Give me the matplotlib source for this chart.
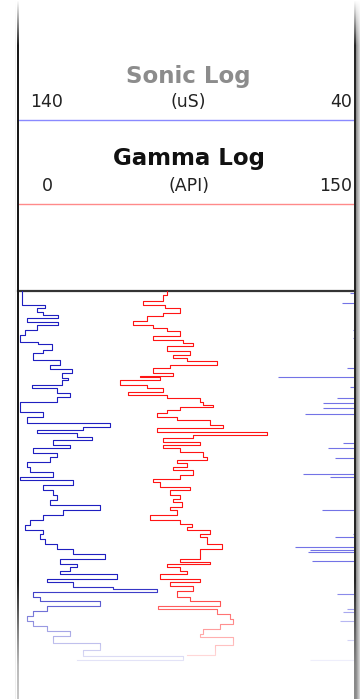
import numpy as np
import matplotlib
matplotlib.use("Agg")
import matplotlib.pyplot as plt

# ---------------- data ----------------
sonic_scale = [140, 40]          # uS, left -> right
gamma_scale = [0, 150]           # API, left -> right
sonic_title, sonic_unit = "Sonic Log", "(uS)"
gamma_title, gamma_unit = "Gamma Log", "(API)"

gamma_depth = [0, 4, 10, 14, 17, 22, 25, 30, 34, 37, 40, 45, 49, 52, 55, 60, 64, 67, 70, 74,
               77, 82, 85, 86, 89, 94, 97, 101, 104, 107, 111, 114, 116, 119, 122, 126, 129, 134,
               137, 141, 144, 147, 151, 154, 157, 161, 166, 169, 172, 176, 179, 184, 188, 191,
               196, 199, 204, 208, 211, 216, 219, 224, 229, 233, 236, 239, 243, 246, 253, 258,
               263, 268, 271, 273, 276, 280, 283, 288, 291, 295, 300, 306, 310, 315, 318, 323,
               328, 333, 338, 343, 346, 354, 364]
gamma_api = [66.3, 64.5, 55.6, 65.4, 72.1, 64.5, 57.4, 51.2, 60.1, 66.3, 72.1, 60.1, 73.4, 77.9,
             66.3, 76.6, 69.0, 75.2, 88.6, 67.7, 60.1, 69.0, 54.3, 63.2, 45.4, 57.4, 64.5, 49.0,
             66.3, 81.0, 82.3, 86.8, 72.1, 66.3, 61.9, 70.8, 85.5, 91.2, 61.9, 110.8, 77.9, 64.5,
             81.0, 64.5, 72.1, 82.3, 84.1, 70.8, 75.2, 69.0, 77.9, 72.1, 60.1, 63.2, 76.6, 67.7,
             72.1, 69.0, 73.0, 67.7, 70.8, 58.8, 72.1, 77.4, 75.2, 85.5, 81.0, 84.1, 90.8, 81.0,
             81.0, 72.1, 85.5, 66.3, 72.1, 75.2, 63.2, 81.0, 67.7, 77.9, 70.8, 76.6, 89.9, 62.3,
             88.6, 94.4, 95.7, 89.9, 82.3, 81.0, 95.7, 87.7, 75.2]

sonic_depth = [0, 4, 14, 17, 21, 24, 27, 31, 34, 39, 44, 51, 53, 59, 62, 69, 74, 78, 82, 87, 89,
               94, 97, 102, 106, 111, 121, 126, 132, 136, 139, 142, 146, 149, 154, 157, 162, 166,
               171, 176, 181, 186, 189, 194, 199, 204, 209, 214, 219, 224, 229, 234, 239, 243,
               248, 253, 258, 263, 268, 273, 276, 280, 283, 288, 291, 296, 298, 301, 306, 310,
               315, 320, 325, 330, 335, 340, 345, 352, 359, 365, 369]
sonic_us = [138.8, 138.8, 132.0, 134.4, 132.6, 128.1, 137.3, 128.1, 134.4, 137.9, 139.4, 134.1,
            129.9, 132.6, 135.5, 127.5, 130.5, 124.0, 126.9, 125.2, 126.9, 135.8, 128.4, 124.6,
            128.4, 139.4, 132.6, 137.3, 112.7, 120.7, 134.4, 122.5, 118.0, 129.6, 124.6, 135.5,
            128.4, 130.5, 137.3, 136.4, 129.6, 139.4, 123.7, 132.6, 129.6, 128.4, 130.5, 115.7,
            126.6, 132.6, 136.4, 137.9, 132.6, 133.5, 132.0, 128.4, 123.7, 114.2, 127.5, 122.5,
            124.6, 127.5, 110.6, 131.4, 123.7, 111.8, 98.8, 135.5, 133.5, 115.7, 131.4, 135.5,
            137.3, 135.5, 131.4, 124.6, 129.6, 115.7, 120.7, 91.0, 122.5]

# wrapped (back-up scale) sonic readings shown from the right edge
wrap_depth = [2, 12, 39, 47, 77, 86, 96, 107, 112, 117, 123, 152, 157, 167, 183, 186, 219, 226,
              243, 246, 256, 259, 261, 270, 303, 318, 321, 330, 349, 369]
wrap_us = [41.5, 43.9, 40.6, 40.6, 42.4, 62.9, 41.5, 45.3, 49.5, 49.5, 54.8, 43.6, 48.0, 45.9,
           55.4, 47.4, 49.8, 40.3, 40.6, 45.9, 57.8, 53.4, 54.0, 52.8, 45.3, 42.4, 43.6, 44.5,
           42.4, 53.4]

# ---------------- layout ----------------
W, H = 360, 699
fig = plt.figure(figsize=(W / 100, H / 100), dpi=100)
fig.patch.set_facecolor("white")
L, R = 18, 355          # track borders (px)
TOP = 291               # top of data area (px)

ax0 = fig.add_axes([0, 0, 1, 1])
ax0.set_xlim(0, W)
ax0.set_ylim(H, 0)
ax0.axis("off")

mid = (L + R) / 2 + 2
ax0.text(mid, 76, sonic_title, ha="center", va="center", fontsize=16.5,
         fontweight="bold", color="#8c8c8c", family="DejaVu Sans")
ax0.text(mid, 102, sonic_unit, ha="center", va="center", fontsize=12.5, color="#222222")
ax0.text(47, 102, str(sonic_scale[0]), ha="center", va="center", fontsize=12.5, color="#222222")
ax0.text(352, 102, str(sonic_scale[1]), ha="right", va="center", fontsize=12.5, color="#222222")
ax0.plot([L, R], [120, 120], color="#8a8aff", lw=1.0)

ax0.text(mid, 158, gamma_title, ha="center", va="center", fontsize=16.5,
         fontweight="bold", color="#111111")
ax0.text(mid, 186, gamma_unit, ha="center", va="center", fontsize=12.5, color="#222222")
ax0.text(47, 186, str(gamma_scale[0]), ha="center", va="center", fontsize=12.5, color="#222222")
ax0.text(352, 186, str(gamma_scale[1]), ha="right", va="center", fontsize=12.5, color="#222222")
ax0.plot([L, R], [204, 204], color="#ff8a8a", lw=1.0)

ax0.plot([L, R], [290.5, 290.5], color="#333333", lw=1.6)

pos = [L / W, 0, (R - L) / W, (H - TOP) / H]
ax_g = fig.add_axes(pos)
ax_g.set_xlim(gamma_scale)
ax_g.set_ylim(H - TOP, 0)
ax_g.axis("off")
ax_g.patch.set_alpha(0)

ax_s = fig.add_axes(pos)
ax_s.set_xlim(sonic_scale)
ax_s.set_ylim(H - TOP, 0)
ax_s.axis("off")
ax_s.patch.set_alpha(0)

ax_s.plot(sonic_us, sonic_depth, color="#1f1fc0", lw=0.8, drawstyle="steps-pre")
ax_s.hlines(wrap_depth, wrap_us, sonic_scale[1], color="#7373e6", lw=0.8)
ax_g.plot(gamma_api, gamma_depth, color="#ff1414", lw=0.8, drawstyle="steps-pre")

# overlay: bottom fade + borders
ov = np.zeros((H, W, 4))
rows = np.arange(H)
fade = np.interp(rows, [0, 580, 630, 665, 699], [0, 0, 0.6, 0.93, 1.0])
ov[..., :3] = 1.0
ov[..., 3] = fade[:, None]
topramp = np.interp(rows, [0, 12, 45, H], [0, 0.25, 1, 1])
for col in (L - 1, L):
    shade = 0.1 + 0.8 * fade * 0.85
    ov[:, col, :3] = shade[:, None]
    ov[:, col, 3] = topramp
for col in (R - 1, R):
    shade = 0.15 + 0.8 * fade * 0.5
    ov[:, col, :3] = shade[:, None]
    ov[:, col, 3] = topramp
for i, col in enumerate(range(R + 1, W)):
    g = 0.5 + 0.1 * i
    ov[:, col, :3] = g
    ov[:, col, 3] = topramp * 0.85
ov[:, L - 3, :3] = 0.8
ov[:, L - 3, 3] = topramp * 0.3

ax3 = fig.add_axes([0, 0, 1, 1])
ax3.imshow(ov, extent=[0, W, H, 0], aspect="auto", interpolation="nearest", zorder=5)
ax3.set_xlim(0, W)
ax3.set_ylim(H, 0)
ax3.axis("off")
ax3.patch.set_alpha(0)

fig.savefig("out.png", dpi=100, facecolor="white")
